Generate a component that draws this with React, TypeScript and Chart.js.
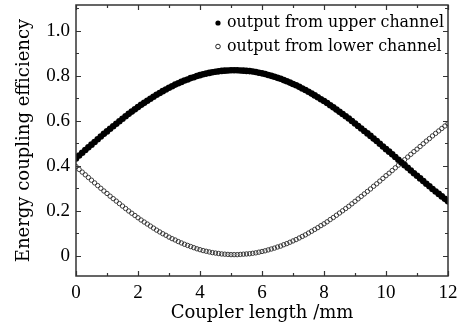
import { useEffect, useRef } from "react";
import { Chart, registerables } from "chart.js";

Chart.register(...registerables);

const lengthMm = [
  0, 0.1, 0.2, 0.3, 0.4, 0.5, 0.6, 0.7, 0.8, 0.9,
  1, 1.1, 1.2, 1.3, 1.4, 1.5, 1.6, 1.7, 1.8, 1.9,
  2, 2.1, 2.2, 2.3, 2.4, 2.5, 2.6, 2.7, 2.8, 2.9,
  3, 3.1, 3.2, 3.3, 3.4, 3.5, 3.6, 3.7, 3.8, 3.9,
  4, 4.1, 4.2, 4.3, 4.4, 4.5, 4.6, 4.7, 4.8, 4.9,
  5, 5.1, 5.2, 5.3, 5.4, 5.5, 5.6, 5.7, 5.8, 5.9,
  6, 6.1, 6.2, 6.3, 6.4, 6.5, 6.6, 6.7, 6.8, 6.9,
  7, 7.1, 7.2, 7.3, 7.4, 7.5, 7.6, 7.7, 7.8, 7.9,
  8, 8.1, 8.2, 8.3, 8.4, 8.5, 8.6, 8.7, 8.8, 8.9,
  9, 9.1, 9.2, 9.3, 9.4, 9.5, 9.6, 9.7, 9.8, 9.9,
  10, 10.1, 10.2, 10.3, 10.4, 10.5, 10.6, 10.7, 10.8, 10.9,
  11, 11.1, 11.2, 11.3, 11.4, 11.5, 11.6, 11.7, 11.8, 11.9,
  12,
];

const upperChannel = [
  0.433, 0.446, 0.458, 0.47, 0.482, 0.494, 0.506, 0.518, 0.53, 0.542,
  0.553, 0.565, 0.576, 0.587, 0.598, 0.609, 0.62, 0.631, 0.641, 0.651,
  0.661, 0.671, 0.68, 0.689, 0.698, 0.707, 0.716, 0.724, 0.732, 0.739,
  0.747, 0.754, 0.761, 0.767, 0.773, 0.779, 0.784, 0.79, 0.794, 0.799,
  0.803, 0.807, 0.81, 0.813, 0.816, 0.818, 0.82, 0.822, 0.823, 0.824,
  0.825, 0.825, 0.825, 0.824, 0.823, 0.822, 0.821, 0.819, 0.817, 0.814,
  0.811, 0.808, 0.804, 0.8, 0.796, 0.791, 0.787, 0.781, 0.776, 0.77,
  0.764, 0.758, 0.751, 0.744, 0.737, 0.729, 0.721, 0.713, 0.705, 0.696,
  0.688, 0.679, 0.669, 0.66, 0.65, 0.64, 0.63, 0.62, 0.61, 0.599,
  0.588, 0.577, 0.566, 0.555, 0.544, 0.533, 0.521, 0.51, 0.498, 0.486,
  0.474, 0.463, 0.451, 0.439, 0.427, 0.415, 0.403, 0.391, 0.379, 0.367,
  0.356, 0.344, 0.332, 0.32, 0.309, 0.297, 0.286, 0.275, 0.264, 0.253,
  0.242,
];

const lowerChannel = [
  0.397, 0.384, 0.372, 0.36, 0.348, 0.336, 0.324, 0.312, 0.3, 0.288,
  0.277, 0.265, 0.254, 0.243, 0.232, 0.221, 0.21, 0.199, 0.189, 0.179,
  0.169, 0.159, 0.15, 0.141, 0.132, 0.123, 0.114, 0.106, 0.098, 0.091,
  0.083, 0.076, 0.07, 0.063, 0.057, 0.051, 0.046, 0.041, 0.036, 0.031,
  0.027, 0.023, 0.02, 0.017, 0.014, 0.012, 0.01, 0.008, 0.007, 0.006,
  0.005, 0.005, 0.005, 0.006, 0.007, 0.008, 0.009, 0.011, 0.013, 0.016,
  0.019, 0.022, 0.026, 0.03, 0.034, 0.039, 0.043, 0.049, 0.054, 0.06,
  0.066, 0.072, 0.079, 0.086, 0.093, 0.101, 0.109, 0.117, 0.125, 0.134,
  0.142, 0.151, 0.161, 0.17, 0.18, 0.19, 0.2, 0.21, 0.22, 0.231,
  0.242, 0.253, 0.264, 0.275, 0.286, 0.297, 0.309, 0.32, 0.332, 0.344,
  0.356, 0.367, 0.379, 0.391, 0.403, 0.415, 0.427, 0.439, 0.451, 0.463,
  0.474, 0.486, 0.498, 0.51, 0.521, 0.533, 0.544, 0.555, 0.566, 0.577,
  0.588,
];

const seriesLabels = ["output from upper channel", "output from lower channel"];
const xMajorTicks = [0, 2, 4, 6, 8, 10, 12];
const xMinorTicks = [1, 3, 5, 7, 9, 11];
const yMajorTicks = [0, 0.2, 0.4, 0.6, 0.8, 1.0];
const yTickLabels = ["0", "0.2", "0.4", "0.6", "0.8", "1.0"];
const yMinorTicks = [0.1, 0.3, 0.5, 0.7, 0.9, 1.1];

const W = 473;
const H = 332;
const SERIF = "'DejaVu Serif', serif";
const TICK_FONT = "'Liberation Serif', serif";

const frameTicksPlugin = {
  id: "frameTicks",
  afterDraw(chart: any) {
    const { ctx, chartArea, scales } = chart;
    const { left, right, top, bottom } = chartArea;
    const xs = scales.x;
    const ys = scales.y;
    ctx.save();
    ctx.strokeStyle = "#333";
    ctx.lineWidth = 1.2;
    ctx.beginPath();
    const tick = (vals: number[], len: number) => {
      vals.forEach((v) => {
        const px = Math.round(xs.getPixelForValue(v)) + 0.5;
        ctx.moveTo(px, bottom);
        ctx.lineTo(px, bottom - len);
        ctx.moveTo(px, top);
        ctx.lineTo(px, top + len);
      });
    };
    const ytick = (vals: number[], len: number) => {
      vals.forEach((v) => {
        const py = Math.round(ys.getPixelForValue(v)) + 0.5;
        ctx.moveTo(left, py);
        ctx.lineTo(left + len, py);
        ctx.moveTo(right, py);
        ctx.lineTo(right - len, py);
      });
    };
    tick(xMajorTicks, 5);
    tick(xMinorTicks, 3);
    ytick(yMajorTicks, 5);
    ytick(yMinorTicks, 3);
    ctx.stroke();
    ctx.lineWidth = 1.5;
    ctx.strokeRect(left, top, right - left, bottom - top);

    // legend, sized so the text runs from x=227 to about x=445
    const tx = 227;
    const targetW = 217;
    ctx.font = `16px ${SERIF}`;
    const w16 = ctx.measureText(chart.data.datasets[0].label).width;
    const size = Math.min(16, (16 * targetW) / w16);
    ctx.font = `${size.toFixed(2)}px ${SERIF}`;
    ctx.fillStyle = "#000";
    ctx.textAlign = "left";
    ctx.textBaseline = "alphabetic";
    const lx = 218;
    const rows = [27, 50.5];
    chart.data.datasets.forEach((ds: any, i: number) => {
      const y = rows[i];
      ctx.beginPath();
      if (i === 0) {
        ctx.fillStyle = "#000";
        ctx.arc(lx, y - 4, 2.6, 0, Math.PI * 2);
        ctx.fill();
      } else {
        ctx.strokeStyle = "#222";
        ctx.lineWidth = 1;
        ctx.arc(lx, y - 4, 2.3, 0, Math.PI * 2);
        ctx.stroke();
      }
      ctx.fillStyle = "#000";
      ctx.fillText(ds.label, tx, y);
    });
    ctx.restore();
  },
};

export default function App() {
  const canvasRef = useRef<HTMLCanvasElement | null>(null);

  useEffect(() => {
    const canvas = canvasRef.current;
    if (!canvas) return;
    const chart = new Chart(canvas, {
      type: "scatter",
      data: {
        datasets: [
          {
            label: seriesLabels[0],
            data: upperChannel.map((y, i) => ({ x: lengthMm[i], y })),
            pointRadius: 3.3,
            pointBackgroundColor: "#000",
            pointBorderWidth: 0,
            showLine: false,
          },
          {
            label: seriesLabels[1],
            data: lowerChannel.map((y, i) => ({ x: lengthMm[i], y })),
            pointRadius: 2.2,
            pointBackgroundColor: "rgba(255,255,255,0)",
            pointBorderColor: "#2a2a2a",
            pointBorderWidth: 0.9,
            showLine: false,
          },
        ],
      },
      options: {
        responsive: false,
        animation: false,
        devicePixelRatio: 1,
        layout: { padding: { left: 0, top: 5, right: 25, bottom: 0 } },
        plugins: {
          legend: { display: false },
          tooltip: { enabled: false },
        },
        scales: {
          x: {
            type: "linear",
            min: 0,
            max: 12,
            afterBuildTicks: (scale: any) => {
              scale.ticks = xMajorTicks.map((v) => ({ value: v }));
            },
            afterFit: (scale: any) => {
              scale.height = 56;
              scale.paddingLeft = 0;
              scale.paddingRight = 0;
            },
            grid: { display: false, drawTicks: false },
            border: { display: false },
            ticks: {
              color: "#000",
              padding: 6,
              maxRotation: 0,
              font: { family: TICK_FONT, size: 19, lineHeight: 1.2 },
              callback: (v: any) => String(v),
            },
            title: {
              display: true,
              text: "Coupler length /mm",
              color: "#000",
              font: { family: SERIF, size: 18, lineHeight: 1.2 },
              padding: { top: 0, bottom: 8 },
            },
          },
          y: {
            type: "linear",
            min: -0.09,
            max: 1.115,
            afterBuildTicks: (scale: any) => {
              scale.ticks = yMajorTicks.map((v) => ({ value: v }));
            },
            afterFit: (scale: any) => {
              scale.width = 76;
              scale.paddingTop = 0;
              scale.paddingBottom = 0;
            },
            grid: { display: false, drawTicks: false },
            border: { display: false },
            ticks: {
              color: "#000",
              padding: 6,
              font: { family: TICK_FONT, size: 19, lineHeight: 1.2 },
              callback: (_v: any, i: number) => yTickLabels[i],
            },
            title: {
              display: true,
              text: "Energy coupling efficiency",
              color: "#000",
              font: { family: SERIF, size: 18, lineHeight: 1.2 },
              padding: { top: 14, bottom: 0 },
            },
          },
        },
      },
      plugins: [frameTicksPlugin],
    });
    return () => chart.destroy();
  }, []);

  return (
    <div style={{ position: "absolute", left: 0, top: 0, width: W, height: H, background: "#fff" }}>
      <canvas ref={canvasRef} width={W} height={H} />
    </div>
  );
}
